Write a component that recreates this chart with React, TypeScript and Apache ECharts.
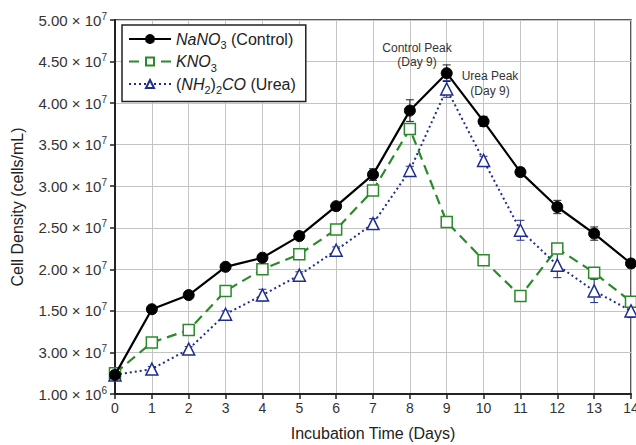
import React, { useEffect, useRef } from "react";
import * as echarts from "echarts";

// Days of incubation
const days = [0, 1, 2, 3, 4, 5, 6, 7, 8, 9, 10, 11, 12, 13, 14];

// Cell density in units of 10^7 cells/mL
const controlE7 = [0.73, 1.52, 1.69, 2.03, 2.14, 2.40, 2.76, 3.14, 3.91, 4.36, 3.78, 3.17, 2.75, 2.43, 2.07];
const kno3E7 = [0.75, 1.12, 1.27, 1.74, 2.0, 2.18, 2.48, 2.95, 3.69, 2.57, 2.11, 1.68, 2.25, 1.96, 1.61];
const ureaE7 = [0.73, 0.8, 1.04, 1.46, 1.69, 1.93, 2.23, 2.55, 3.19, 4.17, 3.31, 2.47, 2.05, 1.74, 1.5];

// Error (± SD) in units of 10^7 cells/mL
const controlErrE7 = [0.02, 0.03, 0.03, 0.03, 0.04, 0.04, 0.04, 0.07, 0.13, 0.1, 0.06, 0.05, 0.08, 0.08, 0.05];
const kno3ErrE7 = [0.02, 0.03, 0.03, 0.03, 0.03, 0.03, 0.03, 0.04, 0.05, 0.04, 0.03, 0.03, 0.05, 0.04, 0.04];
const ureaErrE7 = [0.02, 0.03, 0.03, 0.04, 0.07, 0.04, 0.04, 0.06, 0.05, 0.1, 0.05, 0.12, 0.15, 0.14, 0.08];

// Y tick labels as printed on the original figure (bottom to top)
const yTickMantissas = ["1.00", "3.00", "1.50", "2.00", "2.50", "3.00", "3.50", "4.00", "4.50", "5.00"];
const yTickExponents = ["6", "7", "7", "7", "7", "7", "7", "7", "7", "7"];

const seriesNames = ["NaNO3 (Control)", "KNO3", "(NH2)2CO (Urea)"];

const E7 = 1e7;

function App() {
  const ref = useRef<HTMLDivElement>(null);

  useEffect(() => {
    if (!ref.current) return;
    const chart = echarts.init(ref.current, undefined, { renderer: "svg" });

    const toPts = (vals: number[]) => vals.map((v, i) => [days[i], v * E7]);
    const toErr = (vals: number[], errs: number[]) =>
      vals.map((v, i) => [days[i], v * E7, errs[i] * E7]);

    const errorSeries = (name: string, vals: number[], errs: number[], color: string) => ({
      type: "custom",
      name: name + "-err",
      data: toErr(vals, errs),
      z: 1,
      silent: true,
      renderItem: (params: any, api: any) => {
        const x = api.value(0);
        const y = api.value(1);
        const e = api.value(2);
        const top = api.coord([x, y + e]);
        const bot = api.coord([x, y - e]);
        const hw = 4;
        const style = { stroke: color, lineWidth: 1 };
        return {
          type: "group",
          children: [
            { type: "line", shape: { x1: top[0], y1: top[1], x2: bot[0], y2: bot[1] }, style },
            { type: "line", shape: { x1: top[0] - hw, y1: top[1], x2: top[0] + hw, y2: top[1] }, style },
            { type: "line", shape: { x1: bot[0] - hw, y1: bot[1], x2: bot[0] + hw, y2: bot[1] }, style },
          ],
        };
      },
    });

    const fontFamily = "Liberation Sans, Arial, sans-serif";

    const option: any = {
      animation: false,
      backgroundColor: "#ffffff",
      textStyle: { fontFamily },
      grid: {
        left: 115,
        right: 5,
        top: 20,
        bottom: 51,
        containLabel: false,
        outerBoundsMode: "none",
        show: true,
        borderColor: "#222",
        borderWidth: 1.5,
        backgroundColor: "transparent",
      },
      legend: {
        data: seriesNames,
        orient: "vertical",
        left: 122,
        top: 25,
        backgroundColor: "#ffffff",
        borderColor: "#222",
        borderWidth: 1.5,
        padding: [6, 10, 6, 6],
        itemGap: 3,
        itemWidth: 42,
        itemHeight: 10,
        selectedMode: false,
        formatter: (name: string) => {
          if (name === seriesNames[0]) return "{i|NaNO}{s|3}{n| (Control)}";
          if (name === seriesNames[1]) return "{i|KNO}{s|3}";
          return "{n|(}{i|NH}{s|2}{n|)}{s|2}{i|CO}{n| (Urea)}";
        },
        textStyle: {
          fontFamily,
          color: "#222",
          fontSize: 16,
          rich: {
            i: { fontStyle: "italic", fontSize: 16, color: "#222", lineHeight: 23, fontFamily },
            n: { fontSize: 16, color: "#222", lineHeight: 23, fontFamily },
            s: { fontSize: 11, color: "#222", lineHeight: 13, verticalAlign: "bottom", fontFamily },
          },
        },
      },
      xAxis: {
        type: "value",
        min: 0,
        max: 14,
        interval: 1,
        name: "Incubation Time (Days)",
        nameLocation: "middle",
        nameGap: 31,
        nameTextStyle: { fontSize: 16, color: "#222", fontFamily },
        axisLine: { show: true, onZero: false, lineStyle: { color: "#222", width: 2 } },
        axisTick: { show: true, length: 5, lineStyle: { color: "#222", width: 1.5 } },
        axisLabel: { fontSize: 14, color: "#333", margin: 7, fontFamily, showMaxLabel: true },
        splitLine: { show: true, lineStyle: { color: "#c4c4c4", width: 1 } },
      },
      yAxis: {
        type: "value",
        min: 0.5 * E7,
        max: 5 * E7,
        interval: 0.5 * E7,
        name: "Cell Density (cells/mL)",
        nameLocation: "middle",
        nameGap: 90,
        nameTextStyle: { fontSize: 16, color: "#222", fontFamily },
        axisLine: { show: true, onZero: false, lineStyle: { color: "#222", width: 2 } },
        axisTick: { show: true, length: 5, lineStyle: { color: "#222", width: 1.5 } },
        axisLabel: {
          margin: 8,
          fontFamily,
          formatter: (_v: number, idx: number) =>
            `{m|${yTickMantissas[idx]} × 10}{e|${yTickExponents[idx]}}`,
          rich: {
            m: { fontSize: 15, color: "#333", lineHeight: 18, fontFamily },
            e: { fontSize: 10, color: "#333", lineHeight: 12, verticalAlign: "top", fontFamily },
          },
        },
        splitLine: { show: true, lineStyle: { color: "#c4c4c4", width: 1 } },
      },
      series: [
        errorSeries(seriesNames[0], controlE7, controlErrE7, "#222"),
        errorSeries(seriesNames[1], kno3E7, kno3ErrE7, "#2a8a2a"),
        errorSeries(seriesNames[2], ureaE7, ureaErrE7, "#1f2d8f"),
        {
          name: seriesNames[0],
          type: "line",
          data: toPts(controlE7),
          z: 4,
          symbol: "circle",
          symbolSize: 11,
          itemStyle: { color: "#000", borderColor: "#000", borderWidth: 1 },
          lineStyle: { color: "#000", width: 2.2, type: "solid" },
        },
        {
          name: seriesNames[1],
          type: "line",
          data: toPts(kno3E7),
          z: 3,
          symbol: "rect",
          symbolSize: 11,
          itemStyle: { color: "#ffffff", borderColor: "#2a8a2a", borderWidth: 1.5 },
          lineStyle: { color: "#2a8a2a", width: 2.2, type: [10, 6] },
        },
        {
          name: seriesNames[2],
          type: "line",
          data: toPts(ureaE7),
          z: 3,
          symbol: "triangle",
          symbolSize: 12,
          itemStyle: { color: "#ffffff", borderColor: "#1f2d8f", borderWidth: 1.5 },
          lineStyle: { color: "#1f2d8f", width: 2, type: [2, 3] },
        },
      ],
      graphic: [
        {
          type: "text",
          x: 417,
          y: 55,
          style: {
            text: "Control Peak\n(Day 9)",
            fontSize: 12,
            lineHeight: 14,
            fill: "#333",
            fontFamily,
            align: "center",
            verticalAlign: "middle",
          },
          z: 10,
        },
        {
          type: "text",
          x: 490,
          y: 83,
          style: {
            text: "Urea Peak\n(Day 9)",
            fontSize: 12,
            lineHeight: 15,
            fill: "#333",
            fontFamily,
            align: "center",
            verticalAlign: "middle",
          },
          z: 10,
        },
      ],
    };

    chart.setOption(option);
    return () => chart.dispose();
  }, []);

  return (
    <div
      ref={ref}
      style={{ position: "fixed", left: 0, top: 0, width: 636, height: 445 }}
    />
  );
}

export default App;
